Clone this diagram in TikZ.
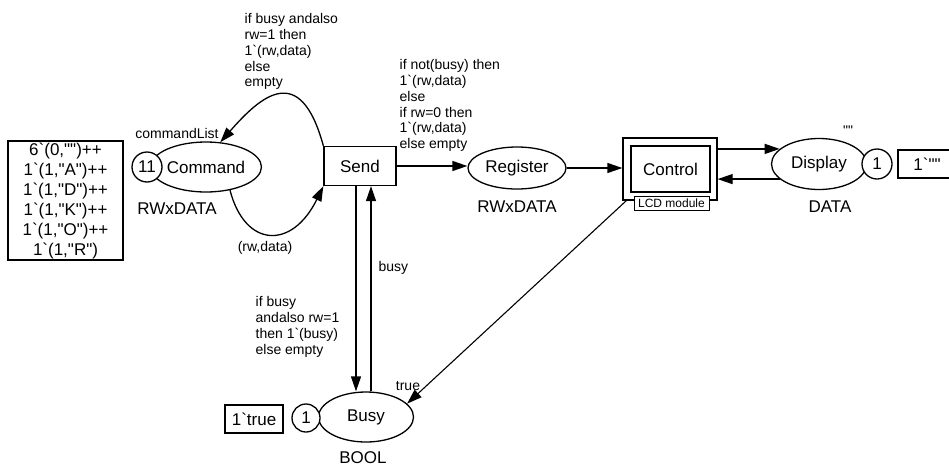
\documentclass[tikz,border=0pt]{standalone}
\usepackage{fontspec}
\setmainfont{Liberation Sans}[Ligatures=TeXOff]
\usetikzlibrary{arrows.meta,shapes.geometric}

\begin{document}
\begin{tikzpicture}[x=1pt,y=-1pt,line width=1.3pt,
  >={Triangle[length=15pt,width=10pt]},
  big/.style={font=\fontsize{17}{20}\selectfont},
  small/.style={font=\fontsize{14}{15.8}\selectfont,inner sep=0pt},
  place/.style={ellipse,draw,inner sep=0pt,big},
  token/.style={circle,draw,fill=white,inner sep=0pt,minimum size=30pt,big},
  trans/.style={rectangle,draw,inner sep=0pt,big},
  typelbl/.style={inner sep=0pt,big},
  arclbl/.style={small,align=left,anchor=north west},
  marking/.style={rectangle,draw,inner sep=0pt,align=center,big},
]
\useasboundingbox (0,0) rectangle (949,466);

% places
\node[place,minimum width=84pt,minimum height=50pt] (cmd) at (206,167) {Command};
\node[token] (cmdtok) at (147,167) {11};
\node[marking,minimum width=115pt,minimum height=119pt] (cmdinit) at (65.5,200.5)
  {6`(0,"")++\\1`(1,"A")++\\1`(1,"D")++\\1`(1,"K")++\\1`(1,"O")++\\1`(1,"R")};
\node[small] (cmdname) at (177,133) {commandList};
\node[typelbl] (cmdtype) at (177,209) {RWxDATA};

\node[place,minimum width=98pt,minimum height=42pt] (reg) at (517,168) {Register};
\node[typelbl] (regtype) at (517,207) {RWxDATA};

\node[place,minimum width=95pt,minimum height=51pt] (disp) at (819,164) {Display};
\node[token] (disptok) at (877,164) {1};
\node[marking,minimum width=58pt,minimum height=28pt] (dispinit) at (927,164) {1`""};
\node[small] (dispname) at (848,131) {""};
\node[typelbl] (disptype) at (830,207) {DATA};

\node[place,minimum width=95pt,minimum height=50pt] (busy) at (366,417) {Busy};
\node[token,minimum size=28pt] (busytok) at (306,418) {1};
\node[marking,minimum width=58pt,minimum height=28pt] (busyinit) at (254,419) {1`true};
\node[typelbl] (busytype) at (363,458) {BOOL};

% transitions
\node[trans,minimum width=72pt,minimum height=39pt] (send) at (360,166) {Send};
\node[trans,minimum width=94pt,minimum height=62pt] (ctrl) at (670,169) {};
\node[trans,minimum width=79pt,minimum height=46pt] (ctrlin) at (670.5,169) {Control};
\node[rectangle,draw,fill=white,line width=1pt,inner sep=0pt,minimum width=75pt,minimum height=14pt,
  font=\fontsize{12}{14}\selectfont] (lcd) at (671.5,203) {LCD module};

% arcs
\draw[->] (send.north west) .. controls (300,60) and (260,97) .. (cmd.60);
\draw[->] (cmd.-44) .. controls (245,248) and (292,250) .. (send.south west);
\draw[->] (send.east) -- (send.east -| reg.west);
\draw[->] (reg.east) -- (reg.east -| ctrl.west);
\draw[->] (ctrl.east |- disp.159) -- (disp.159);
\draw[->] (disp.201) -- (disp.201 -| ctrl.east);
\draw[->] ([xshift=-4pt]send.south) -- ([xshift=-4pt]send.south |- busy.north);
\draw[->] ([xshift=11pt]send.south |- busy.north) -- ([xshift=11pt]send.south);
\draw[->,line width=1.1pt] ([xshift=4pt]ctrl.south west) -- (busy.18);

% arc inscriptions
\node[arclbl] (lblret) at (244,13) {if busy andalso\\rw=1 then\\1`(rw,data)\\else\\empty};
\node[arclbl] (lblreg) at (399,59) {if not(busy) then\\1`(rw,data)\\else\\if rw=0 then\\1`(rw,data)\\else empty};
\node[arclbl] (lblbusy) at (255,296) {if busy\\andalso rw=1\\then 1`(busy)\\else empty};
\node[small] (lblcmd) at (265,248) {(rw,data)};
\node[small,anchor=west] (lblsend) at (378,268) {busy};
\node[small] (lbltrue) at (408,386) {true};
\end{tikzpicture}
\end{document}
